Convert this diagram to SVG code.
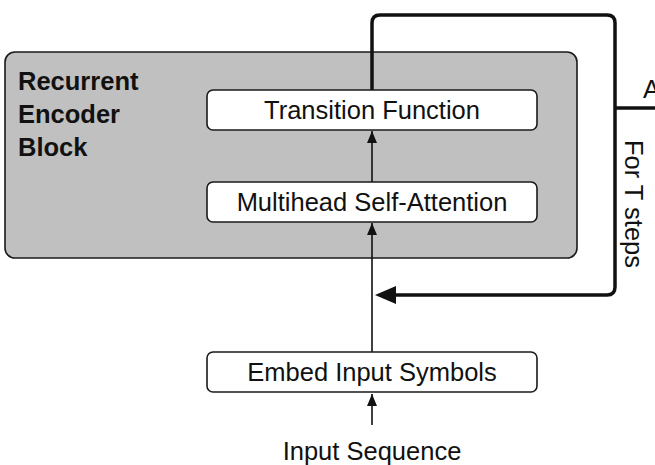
<svg xmlns="http://www.w3.org/2000/svg" width="655" height="465" viewBox="0 0 655 465">
<defs>
<style>
.box{fill:#fff;stroke:#1a1a1a;stroke-width:1.6}
.t{font-family:"Liberation Sans",Arial,sans-serif;font-size:25.5px;fill:#111}
.b{font-family:"Liberation Sans",Arial,sans-serif;font-size:25.5px;font-weight:bold;fill:#111}
.thin{fill:none;stroke:#111;stroke-width:1.6}
.thick{fill:none;stroke:#111;stroke-width:3.5;stroke-linejoin:round}
</style>
<marker id="ah" viewBox="0 0 12 10" refX="12" refY="5" markerWidth="12" markerHeight="10" markerUnits="userSpaceOnUse" orient="auto">
<path d="M0,0 L12,5 L0,10 z" fill="#111"/>
</marker>
</defs>
<rect width="655" height="465" fill="#fff"/>
<g id="block">
<rect x="5" y="52" width="572" height="206" rx="10" fill="#c0c0c0" stroke="#1a1a1a" stroke-width="1.6"/>
<text class="b" x="18" y="90">Recurrent</text>
<text class="b" x="18" y="123">Encoder</text>
<text class="b" x="18" y="156">Block</text>
</g>
<g id="connectors">
<path class="thick" d="M372,90 V23 Q372,15 380,15 H607 Q615,15 615,23 V287 Q615,295 607,295 H395"/>
<path d="M375,295 L396,286 L396,304 z" fill="#111"/>
<path class="thick" d="M615,108 H655"/>
<path class="thin" d="M372,352 V223" marker-end="url(#ah)"/>
<path class="thin" d="M372,182 V131" marker-end="url(#ah)"/>
<path class="thin" d="M372,425 V394" marker-end="url(#ah)"/>
</g>
<g id="transition">
<rect class="box" x="207" y="90" width="330" height="40" rx="6"/>
<text class="t" x="372" y="119" text-anchor="middle">Transition Function</text>
</g>
<g id="attention">
<rect class="box" x="207" y="182" width="330" height="40" rx="6"/>
<text class="t" x="372" y="211" text-anchor="middle">Multihead Self-Attention</text>
</g>
<g id="embed">
<rect class="box" x="207" y="352" width="330" height="40" rx="6"/>
<text class="t" x="372" y="381" text-anchor="middle">Embed Input Symbols</text>
</g>
<g id="input">
<text class="t" x="372" y="460" text-anchor="middle">Input Sequence</text>
</g>
<g id="labels">
<text class="t" x="643" y="98">A</text>
<text class="t" transform="translate(625,140) rotate(90)">For T steps</text>
</g>
</svg>
